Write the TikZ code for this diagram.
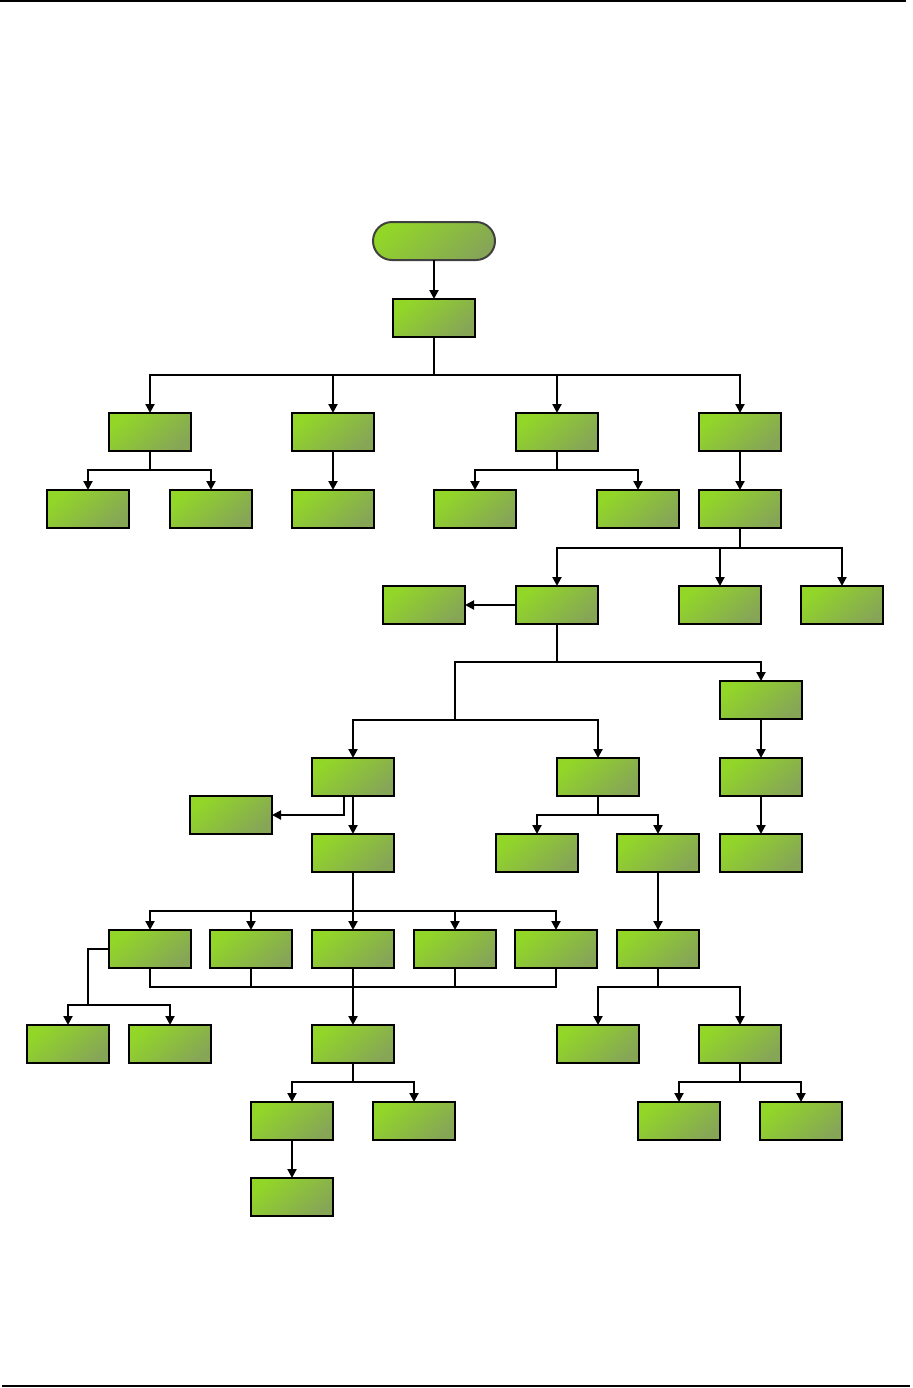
\documentclass[tikz,border=0pt]{standalone}
\usetikzlibrary{arrows.meta}
\definecolor{lg}{RGB}{146,214,40}
\definecolor{dg}{RGB}{134,166,86}
\tikzset{
  box/.style={draw=black, line width=1pt, minimum width=41pt, minimum height=19pt,
    inner sep=0pt, outer sep=0pt, top color=lg, bottom color=dg, shading angle=40},
  pill/.style={box, minimum width=61pt, rounded corners=9.5pt, draw=black!75},
  con/.style={line width=1pt, draw=black},
  arr/.style={con, -{Triangle[width=4.5pt,length=4.5pt]}},
  rule/.style={line width=1pt, draw=black}
}
\begin{document}
\begin{tikzpicture}[x=0.5pt, y=-0.5pt]
\useasboundingbox (0,0) rectangle (912,1388);
\coordinate (tl) at (0,1); \coordinate (tr) at (906,1);
\coordinate (bl) at (2,1386); \coordinate (br) at (910,1386);
\draw[rule] (tl) -- (tr);
\draw[rule] (bl) -- (br);

% nodes
\node[pill] (S) at (434,241) {};
\node[box] (A) at (434,318) {};
\node[box] (B1) at (150,432) {};
\node[box] (B2) at (333,432) {};
\node[box] (B3) at (557,432) {};
\node[box] (B4) at (740,432) {};
\node[box] (C1) at (88,509) {};
\node[box] (C2) at (211,509) {};
\node[box] (C3) at (333,509) {};
\node[box] (C4) at (475,509) {};
\node[box] (C5) at (638,509) {};
\node[box] (C6) at (740,509) {};
\node[box] (E0) at (424,605) {};
\node[box] (D1) at (557,605) {};
\node[box] (D2) at (720,605) {};
\node[box] (D3) at (842,605) {};
\node[box] (E3) at (761,700) {};
\node[box] (F1) at (353,777) {};
\node[box] (F2) at (598,777) {};
\node[box] (G3) at (761,777) {};
\node[box] (F0) at (231,815) {};
\node[box] (F1b) at (353,853) {};
\node[box] (G1) at (537,853) {};
\node[box] (G2) at (658,853) {};
\node[box] (H3) at (761,853) {};
\node[box] (I1) at (150,949) {};
\node[box] (I2) at (251,949) {};
\node[box] (I3) at (353,949) {};
\node[box] (I4) at (455,949) {};
\node[box] (I5) at (556,949) {};
\node[box] (H2) at (658,949) {};
\node[box] (K1) at (68,1044) {};
\node[box] (K2) at (170,1044) {};
\node[box] (J) at (353,1044) {};
\node[box] (N1) at (598,1044) {};
\node[box] (N2) at (740,1044) {};
\node[box] (L1) at (292,1121) {};
\node[box] (L2) at (414,1121) {};
\node[box] (O1) at (679,1121) {};
\node[box] (O2) at (801,1121) {};
\node[box] (M) at (292,1197) {};

% bus coordinates
\coordinate (busA) at (434,375);
\coordinate (busB1) at (150,470);
\coordinate (busB3) at (557,470);
\coordinate (busC6) at (740,548);
\coordinate (busD1) at (557,662);
\coordinate (busF) at (455,720);
\coordinate (f1o) at (344,796);
\coordinate (busF2) at (598,815);
\coordinate (busF1b) at (353,911);
\coordinate (busI) at (353,987);
\coordinate (kx) at (88,1005);
\coordinate (busJ) at (353,1082);
\coordinate (busH2) at (658,987);
\coordinate (busN2) at (740,1082);

% connectors
\draw[arr] (S) -- (A);
\draw[con] (A.south) -- (busA);
\foreach \n in {B1,B2,B3,B4} \draw[arr] (busA) -| (\n);

\draw[con] (B1.south) -- (busB1);
\draw[arr] (busB1) -| (C1);
\draw[arr] (busB1) -| (C2);
\draw[arr] (B2) -- (C3);
\draw[con] (B3.south) -- (busB3);
\draw[arr] (busB3) -| (C4);
\draw[arr] (busB3) -| (C5);
\draw[arr] (B4) -- (C6);

\draw[con] (C6.south) -- (busC6);
\foreach \n in {D1,D2,D3} \draw[arr] (busC6) -| (\n);
\draw[arr] (D1.west) -- (E0.east);

\draw[con] (D1.south) -- (busD1);
\draw[arr] (busD1) -| (E3);
\draw[con] (busD1) -| (busF);
\draw[arr] (busF) -| (F1);
\draw[arr] (busF) -| (F2);
\draw[arr] (E3) -- (G3);
\draw[arr] (G3) -- (H3);

\draw[arr] (f1o) |- (F0.east);
\draw[arr] (F1) -- (F1b);
\draw[con] (F2.south) -- (busF2);
\draw[arr] (busF2) -| (G1);
\draw[arr] (busF2) -| (G2);
\draw[arr] (G2) -- (H2);

\draw[con] (F1b.south) -- (busF1b);
\foreach \n in {I1,I2,I3,I4,I5} \draw[arr] (busF1b) -| (\n);
\draw[con] (I1.south) |- (busI) -| (I5.south);
\draw[con] (I2.south) -- (I2.south |- busI);
\draw[con] (I4.south) -- (I4.south |- busI);
\draw[arr] (I3) -- (J);

\draw[con] (I1.west) -| (kx);
\draw[arr] (kx) -| (K1);
\draw[arr] (kx) -| (K2);

\draw[con] (J.south) -- (busJ);
\draw[arr] (busJ) -| (L1);
\draw[arr] (busJ) -| (L2);
\draw[arr] (L1) -- (M);

\draw[con] (H2.south) -- (busH2);
\draw[arr] (busH2) -| (N1);
\draw[arr] (busH2) -| (N2);
\draw[con] (N2.south) -- (busN2);
\draw[arr] (busN2) -| (O1);
\draw[arr] (busN2) -| (O2);
\end{tikzpicture}
\end{document}
